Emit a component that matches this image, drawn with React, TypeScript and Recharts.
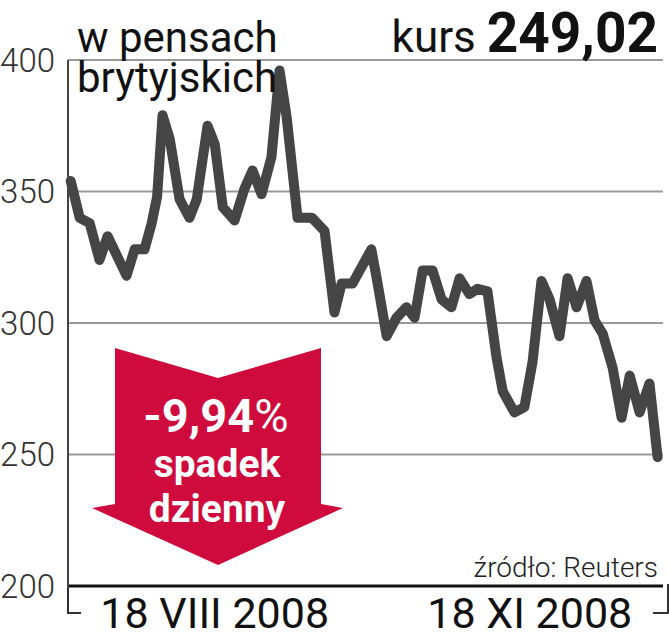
import { CartesianGrid, Line, LineChart, XAxis, YAxis } from "recharts";

// trading-day index and closing price in pence
const days = [
  0, 1, 2.1, 3.2, 4.1, 6.2, 7.1, 8.2, 9, 9.6, 10.2, 11, 12.1, 13.2, 14, 15.2,
  16, 16.9, 18.2, 19.3, 20.2, 21.2, 22.3, 23.2, 24, 25.2, 26.8, 28.2, 29.3,
  30.1, 31.3, 33.4, 34.1, 35.1, 36.2, 37.3, 38.2, 39.1, 40.2, 41.2, 42.3, 43.2,
  44.3, 45.2, 46.3, 47.3, 48, 49.3, 50.4, 51.3, 52.3, 53.2, 54.3, 55.2, 56.2,
  57.3, 58.2, 59.1, 60.2, 61.2, 62.1, 63.2, 64.3, 65.2,
];
const prices = [
  354, 340, 338, 324, 333, 318, 328, 328, 338, 348, 379, 370, 347, 340, 347,
  375, 368, 344, 339, 351, 358, 349, 363, 396, 378, 340, 340, 335, 304, 315,
  315, 328, 315, 295, 302, 306, 302, 320, 320, 309, 306, 317, 311, 313, 312,
  287, 274, 266, 268, 285, 316, 309, 295, 317, 306, 316, 301, 296, 283, 264,
  280, 266, 277, 249,
];
const yTicks = [200, 250, 300, 350, 400];
const xTickDays = [16, 51];
const xTickLabels = ["18 VIII 2008", "18 XI 2008"];

const data = days.map((d, i) => ({ day: d, price: prices[i] }));

const font = "Roboto, 'DejaVu Sans', sans-serif";

export default function App() {
  return (
    <div style={{ position: "relative", width: 669, height: 640, background: "#fff", fontFamily: font }}>
      <style>{"body{margin:0}"}</style>

      <LineChart width={669} height={640} data={data} margin={{ top: 60, right: 6, bottom: 0, left: 0 }}>
        <CartesianGrid vertical={false} stroke="#9a9a9a" strokeWidth={2} />
        <XAxis
          dataKey="day"
          type="number"
          domain={[-0.3, 65.8]}
          ticks={xTickDays}
          tickFormatter={(v) => xTickLabels[xTickDays.indexOf(v)]}
          height={54}
          tickSize={0}
          tickMargin={11}
          axisLine={{ stroke: "#111", strokeWidth: 3 }}
          tick={{ fill: "#111", fontSize: 43, fontFamily: font }}
          interval={0}
        />
        <YAxis
          domain={[200, 400]}
          ticks={yTicks}
          width={68}
          tickSize={0}
          tickMargin={13}
          axisLine={{ stroke: "#444", strokeWidth: 2 }}
          tick={{ fill: "#333", fontSize: 33, fontFamily: font, fontWeight: 300 }}
          interval={0}
        />
        <Line
          type="linear"
          dataKey="price"
          stroke="#454545"
          strokeWidth={10}
          strokeLinejoin="round"
          strokeLinecap="round"
          dot={false}
          isAnimationActive={false}
        />
      </LineChart>

      {/* brackets below the axis + red arrow */}
      <svg width={669} height={640} style={{ position: "absolute", left: 0, top: 0, pointerEvents: "none" }}>
        <polyline points="68,586 68,613 81,613" fill="none" stroke="#333" strokeWidth={2} />
        <polyline points="653,613 668,613 668,584" fill="none" stroke="#333" strokeWidth={2} />
        <polygon
          points="115,348 218,378 321,348 321,504 343,508 218,565 92,508 115,504"
          fill="#cf0a3c"
        />
        <text x={216} y={432} textAnchor="middle" fill="#fff" fontSize={47} fontWeight={700} fontFamily={font}>
          -9,94<tspan fontWeight={400}>%</tspan>
        </text>
        <text x={217} y={477} textAnchor="middle" fill="#fff" fontSize={39} fontWeight={700} fontFamily={font}>
          spadek
        </text>
        <text x={217} y={522} textAnchor="middle" fill="#fff" fontSize={39} fontWeight={700} fontFamily={font}>
          dzienny
        </text>
        <text x={658} y={577} textAnchor="end" fill="#222" fontSize={28} fontWeight={300} fontFamily={font}>
          źródło: Reuters
        </text>
        <text x={77} y={52} fill="#111" fontSize={42} fontFamily={font}>
          w pensach
        </text>
        <text x={77} y={92} fill="#111" fontSize={42} fontFamily={font}>
          brytyjskich
        </text>
        <text x={658} y={52} textAnchor="end" fill="#111" fontFamily={font}>
          <tspan fontSize={44}>kurs </tspan>
          <tspan fontSize={55} fontWeight={700}>249,02</tspan>
        </text>
      </svg>
    </div>
  );
}
